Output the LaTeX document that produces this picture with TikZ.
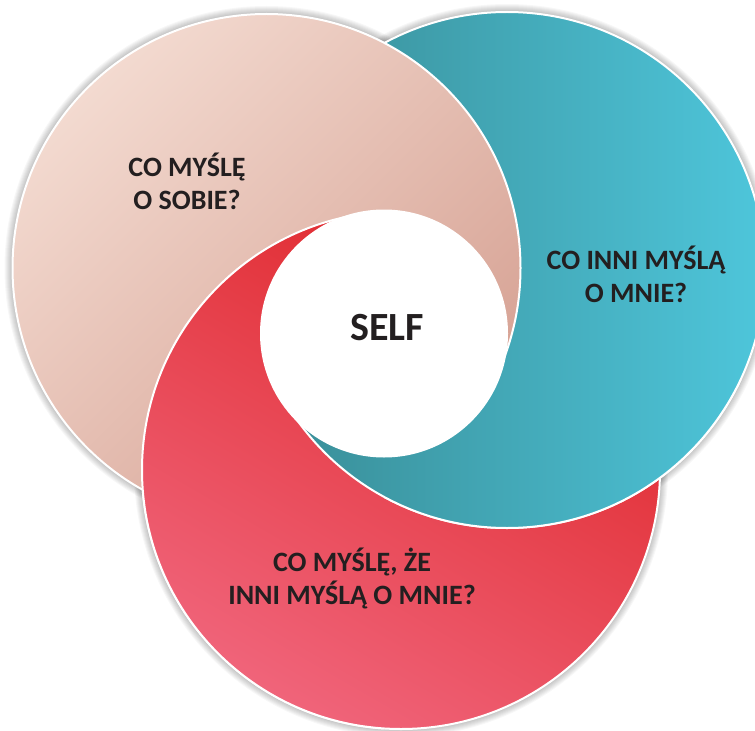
\documentclass[tikz,border=0pt]{standalone}
\usepackage{fontspec}
\setmainfont{Carlito}
\usepackage{tikz}
\usetikzlibrary{positioning}
\usepackage{xcolor}
\definecolor{rozA}{HTML}{F3DAD0}
\definecolor{rozB}{HTML}{D6A193}
\definecolor{morA}{HTML}{388A93}
\definecolor{morB}{HTML}{4EC6DB}
\definecolor{czerA}{HTML}{DF2629}
\definecolor{czerB}{HTML}{F0647A}
\definecolor{tekst}{HTML}{231F20}

\begin{document}
\begin{tikzpicture}[x=0.5pt,y=0.5pt,
  kolo/.style={draw=white,line width=1pt},
  czer/.style={kolo,top color=czerA,bottom color=czerB,shading angle=-30},
  mor/.style={kolo,left color=morA,right color=morB},
  roz/.style={kolo,top color=rozA,bottom color=rozB,shading angle=45},
  opis/.style={font=\bfseries\fontsize{14}{16.5}\selectfont,text=tekst,align=center}]

\fill[white] (0,0) rectangle (755,730);
\useasboundingbox (0,0) rectangle (755,730);

% Cienie
\foreach \cx/\cy/\r in {266.5/462/254,507/460/258,401/260/259}
  \foreach \k in {1,...,8}
    \fill[black,opacity=0.03] (\cx,\cy) circle [radius=\r+\k];

% Kola
\shadedraw[czer] (401,260) circle [radius=259];
\shadedraw[mor] (507,460) circle [radius=258];
\shadedraw[roz] (266.5,462) circle [radius=254];

% Czerwone nad rozowym (lewa strona)
\begin{scope}
  \clip (0,0) rectangle (384,730);
  \shadedraw[czer] (401,260) circle [radius=259];
\end{scope}

% Morskie nad czerwonym i rozowym (dol)
\begin{scope}
  \clip (0,0) rectangle (755,350);
  \shadedraw[mor] (507,460) circle [radius=258];
\end{scope}

% Srodek
\fill[white] (384,396.5) circle [radius=124];

\node[opis] (ja) at (187,549) {CO MYŚLĘ\\O SOBIE?};
\node[opis] (inni) at (636,456) {CO INNI MYŚLĄ\\O MNIE?};
\node[opis] (oni) at (352,152) {CO MYŚLĘ, ŻE\\INNI MYŚLĄ O MNIE?};
\node[font=\bfseries\fontsize{20}{24}\selectfont,text=tekst] (self) at (387,402) {SELF};

\end{tikzpicture}
\end{document}
